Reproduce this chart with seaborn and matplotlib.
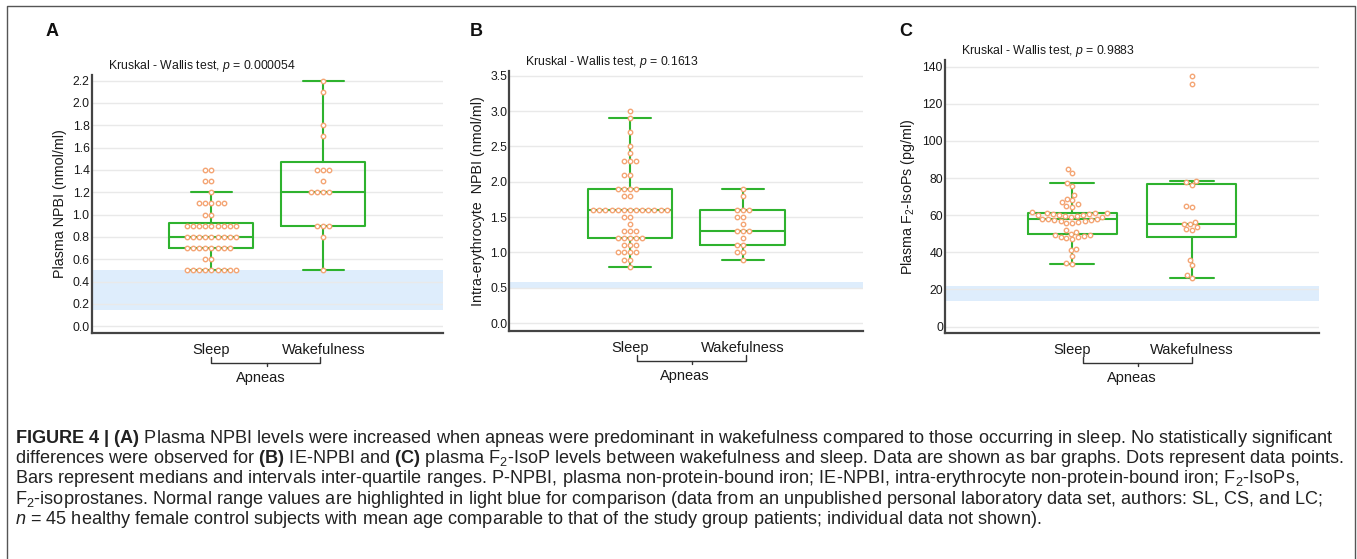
import numpy as np
import pandas as pd
import seaborn as sns
import matplotlib.pyplot as plt
from matplotlib import font_manager
from matplotlib.lines import Line2D

GROUPS = ["Sleep", "Wakefulness"]

# panel A, plasma NPBI (nmol/ml)
a_sleep = ([1.4] * 2 + [1.3] * 2 + [1.2] + [1.1] * 5 + [1.0] * 2 + [0.9] * 9
           + [0.8] * 9 + [0.7] * 8 + [0.6] * 2 + [0.5] * 9)
a_wake = [2.2, 2.1, 1.8, 1.7, 1.4, 1.4, 1.4, 1.3, 1.2, 1.2, 1.2, 1.2,
          0.9, 0.9, 0.9, 0.8, 0.5]

# panel B, intra-erythrocyte NPBI (nmol/ml)
b_sleep = ([3.0, 2.9, 2.7, 2.5, 2.4] + [2.3] * 3 + [2.1] * 2 + [1.9] * 4 + [1.8] * 2
           + [1.6] * 13 + [1.5] * 2 + [1.4] + [1.3] * 3 + [1.2] * 5 + [1.1] * 3
           + [1.0] * 4 + [0.9] * 2 + [0.8])
b_wake = [1.9, 1.8, 1.6, 1.6, 1.6, 1.5, 1.5, 1.4, 1.3, 1.3, 1.3, 1.2,
          1.1, 1.1, 1.0, 1.0, 0.9]

# panel C, plasma F2-IsoPs (pg/ml)
c_sleep = [85, 83, 77.5, 76, 71, 69, 68, 67, 66, 65, 64.5,
           61.5, 61, 61, 61, 60.5, 60.5, 60, 60, 60, 59.5, 59.5,
           59, 59, 58, 58, 58, 57.5, 57.5, 57, 57, 56.5, 56, 56,
           52, 51, 50, 49.5, 49.5, 49, 48.5, 48, 47.5, 47,
           42, 41, 38, 34, 33.5]
c_wake = [135, 130.5, 78.5, 78, 76.5, 65, 64.5, 56.5, 55.5, 55, 53.5, 52.5, 52,
          36, 33, 28, 26]

# normal ranges (light blue bands)
a_normal = (0.15, 0.5)
b_normal = (0.5, 0.58)
c_normal = (14, 22)

P_VALUES = ["0.000054", "0.1613", "0.9883"]
Y_LABELS = ["Plasma NPBI (nmol/ml)", "Intra-erythrocyte  NPBI (nmol/ml)",
            r"Plasma F$_2$-IsoPs (pg/ml)"]

CAPTION = [
    r"$\mathbf{FIGURE\ 4\ |\ (A)}$ Plasma NPBI levels were increased when apneas were predominant in wakefulness compared to those occurring in sleep. No statistically significant",
    r"differences were observed for $\mathbf{(B)}$ IE-NPBI and $\mathbf{(C)}$ plasma F$_2$-IsoP levels between wakefulness and sleep. Data are shown as bar graphs. Dots represent data points.",
    r"Bars represent medians and intervals inter-quartile ranges. P-NPBI, plasma non-protein-bound iron; IE-NPBI, intra-erythrocyte non-protein-bound iron; F$_2$-IsoPs,",
    r"F$_2$-isoprostanes. Normal range values are highlighted in light blue for comparison (data from an unpublished personal laboratory data set, authors: SL, CS, and LC;",
    r"$n$ = 45 healthy female control subjects with mean age comparable to that of the study group patients; individual data not shown).",
]

GREEN = "#2eb22e"
DOT = "#f4a574"
BAND = "#deedfc"

sns.set_style("white")
names = {f.name for f in font_manager.fontManager.ttflist}
CAP_FONT = "Liberation Sans Narrow" if "Liberation Sans Narrow" in names else "Liberation Sans"
plt.rcParams["font.family"] = ["Liberation Sans", "DejaVu Sans"]
plt.rcParams["mathtext.fontset"] = "custom"
plt.rcParams["mathtext.rm"] = CAP_FONT
plt.rcParams["mathtext.bf"] = CAP_FONT + ":bold"
plt.rcParams["mathtext.it"] = "Liberation Sans:italic"


def box_stats(vals):
    v = np.sort(np.asarray(vals, float))
    q1, med, q3 = np.percentile(v, [25, 50, 75], method="hazen")
    iqr = q3 - q1
    return dict(q1=q1, med=med, q3=q3,
                whislo=v[v >= q1 - 1.5 * iqr - 1e-9].min(),
                whishi=v[v <= q3 + 1.5 * iqr + 1e-9].max(), fliers=[])


W, H = 1357, 559
fig = plt.figure(figsize=(W / 100, H / 100), dpi=100)

panels = [
    dict(sleep=a_sleep, wake=a_wake, normal=a_normal, ylim=(-0.06, 2.25),
         ticks=np.arange(0, 2.21, 0.2), minor=np.arange(0, 2.21, 0.1), fmt="{:.1f}",
         box=(91.7, 443, 75, 333), letter=(51.7, "A"), brk=(0.0, 0.975, 0.5, 0.44)),
    dict(sleep=b_sleep, wake=b_wake, normal=b_normal, ylim=(-0.11, 3.57),
         ticks=np.arange(0, 3.51, 0.5), minor=None, fmt="{:.1f}",
         box=(509.3, 863.3, 70.7, 331), letter=(476.6, "B"), brk=(0.06, 1.03, 0.55, 0.49)),
    dict(sleep=c_sleep, wake=c_wake, normal=c_normal, ylim=(-3.6, 143.6),
         ticks=np.arange(0, 141, 20), minor=np.arange(0, 141, 10), fmt="{:.0f}",
         box=(945, 1319, 60, 333.3), letter=(905.5, "C"), brk=(0.09, 1.0, 0.55, 0.50)),
]

for i, pn in enumerate(panels):
    x0, x1, y0, y1 = pn["box"]
    ax = fig.add_axes([x0 / W, 1 - y1 / H, (x1 - x0) / W, (y1 - y0) / H])
    hpx = y1 - y0

    df = pd.DataFrame({
        "group": [GROUPS[0]] * len(pn["sleep"]) + [GROUPS[1]] * len(pn["wake"]),
        "value": list(pn["sleep"]) + list(pn["wake"]),
    })

    ax.axhspan(*pn["normal"], color=BAND, lw=0, zorder=0.3)
    lp = dict(color=GREEN, lw=1.5)
    ax.bxp([box_stats(pn["sleep"]), box_stats(pn["wake"])], positions=[0, 1],
           widths=0.75, capwidths=0.37, showfliers=False, manage_ticks=False,
           boxprops=lp, whiskerprops=lp, capprops=lp, medianprops=lp, zorder=3)
    sns.swarmplot(data=df, x="group", y="value", order=GROUPS, ax=ax,
                  color="white", edgecolor=DOT, linewidth=1.0, size=3.2, zorder=4)

    ax.set_xlim(-1.07, 2.07)
    ax.set_ylim(*pn["ylim"])
    ax.set_yticks(pn["ticks"])
    ax.set_yticklabels([pn["fmt"].format(t) for t in pn["ticks"]])
    if pn["minor"] is not None:
        ax.set_yticks(pn["minor"], minor=True)
    ax.set_axisbelow(True)
    ax.yaxis.grid(True, color="#e9e9e9", lw=1)
    ax.xaxis.grid(False)
    for s in ["top", "right"]:
        ax.spines[s].set_visible(False)
    for s in ["left", "bottom"]:
        ax.spines[s].set_color("#444444")
        ax.spines[s].set_linewidth(1.6)
    ax.tick_params(axis="y", which="major", direction="in", length=6, width=1,
                   color="#777777", labelsize=8.8, pad=1.5, labelcolor="#1a1a1a")
    ax.tick_params(axis="y", which="minor", direction="in", length=3, width=0.8,
                   color="#888888")
    ax.tick_params(axis="x", direction="in", length=6, width=1, color="#777777",
                   labelsize=10.5, pad=7, labelcolor="#1a1a1a")
    ax.set_xlabel("")
    ax.set_ylabel(Y_LABELS[i], fontsize=10.3, color="#1a1a1a", labelpad=4)

    ax.text(16 / (x1 - x0), 1 + 9 / hpx,
            "Kruskal - Wallis test, $p$ = " + P_VALUES[i],
            transform=ax.transAxes, fontsize=8.8, va="center", ha="left",
            color="#1a1a1a")

    # "Apneas" bracket under the categories
    bl, br, bm, bt = pn["brk"]
    tr = ax.get_xaxis_transform()
    yb, ye, ym = -30 / hpx, -24 / hpx, -33 / hpx
    ax.add_line(Line2D([bl, bl, br, br], [ye, yb, yb, ye], transform=tr,
                       color="#333333", lw=1, clip_on=False))
    ax.add_line(Line2D([bm, bm], [yb, ym], transform=tr, color="#333333",
                       lw=1, clip_on=False))
    ax.text(bt, -45 / hpx, "Apneas", transform=tr, ha="center", va="center",
            fontsize=10.5, color="#1a1a1a")

    fig.text(pn["letter"][0] / W, 1 - 31.5 / H, pn["letter"][1], fontsize=13,
             fontweight="bold", ha="center", va="center", color="#111111")

# frame around the figure
fig.add_artist(Line2D([7 / W, 7 / W, 1355 / W, 1355 / W], [0, 1 - 6 / H, 1 - 6 / H, 0],
                      transform=fig.transFigure, color="#555555", lw=1))

# caption, size fitted so the first line spans the frame like the original
renderer = fig.canvas.get_renderer()
probe = fig.text(0, 0, CAPTION[0], fontsize=10, family=CAP_FONT)
wpx = probe.get_window_extent(renderer).width
probe.remove()
cap_size = 10 * 1315 / wpx
for k, line in enumerate(CAPTION):
    fig.text(15 / W, 1 - (443 + 20.2 * k) / H, line, fontsize=cap_size,
             family=CAP_FONT, color="#222222", ha="left", va="baseline")

fig.savefig("out.png", dpi=100)
